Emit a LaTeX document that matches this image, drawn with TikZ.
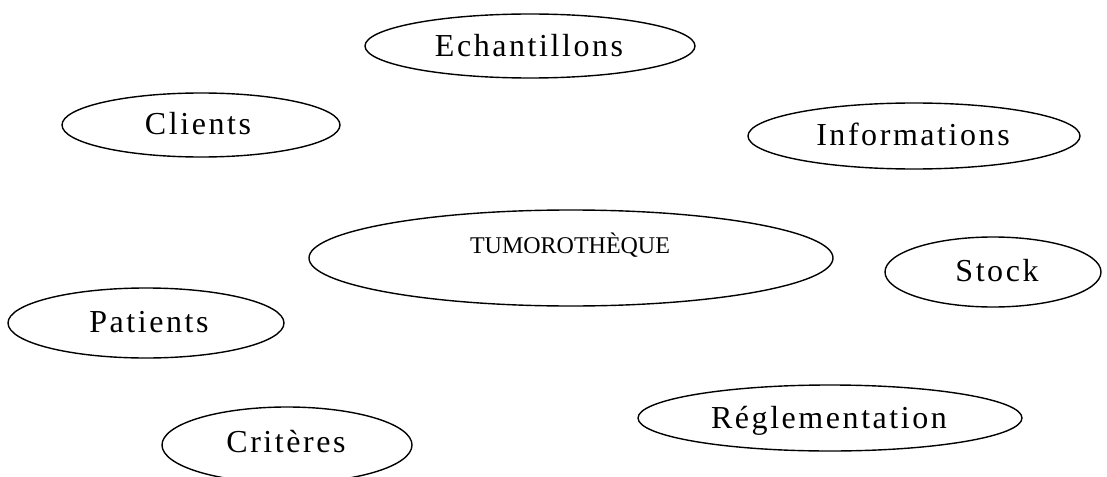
\documentclass[tikz,border=0pt]{standalone}
\usepackage{fontspec}
\setmainfont{Liberation Serif}
\newfontfamily\spacedfont[LetterSpace=8]{Liberation Serif}
\usetikzlibrary{shapes.geometric}
\tikzset{
  oval/.style={draw, ellipse, line width=1.4pt, inner sep=0pt},
  lab/.style={inner sep=0pt, text height=21pt, text depth=0pt, font=\spacedfont\fontsize{32}{38}\selectfont},
  smalllab/.style={inner sep=0pt, text height=16pt, text depth=0pt, font=\fontsize{24}{28}\selectfont}
}
\begin{document}
\begin{tikzpicture}[x=1pt,y=-1pt]
\useasboundingbox (0,0) rectangle (1107,476);
\node[oval, minimum width=330pt, minimum height=64pt] (ech) at (530,46) {};
\node[lab] (echT) at (529,46) {Echantillons};
\node[oval, minimum width=278pt, minimum height=64pt] (cli) at (201,125) {};
\node[lab] (cliT) at (198,124) {Clients};
\node[oval, minimum width=332pt, minimum height=66pt] (inf) at (914,136) {};
\node[lab] (infT) at (913,135) {Informations};
\node[oval, minimum width=524pt, minimum height=96pt] (tum) at (571,258) {};
\node[smalllab] (tumT) at (570,245) {TUMOROTHÈQUE};
\node[oval, minimum width=216pt, minimum height=70pt] (sto) at (993,272) {};
\node[lab] (stoT) at (997,271) {Stock};
\node[oval, minimum width=276pt, minimum height=70pt] (pat) at (146,323) {};
\node[lab] (patT) at (149,322) {Patients};
\node[oval, minimum width=384pt, minimum height=66pt] (reg) at (830,418) {};
\node[lab] (regT) at (829,418) {Réglementation};
\node[oval, minimum width=250pt, minimum height=76pt] (cri) at (287,445) {};
\node[lab] (criT) at (286,442) {Critères};
\end{tikzpicture}
\end{document}
